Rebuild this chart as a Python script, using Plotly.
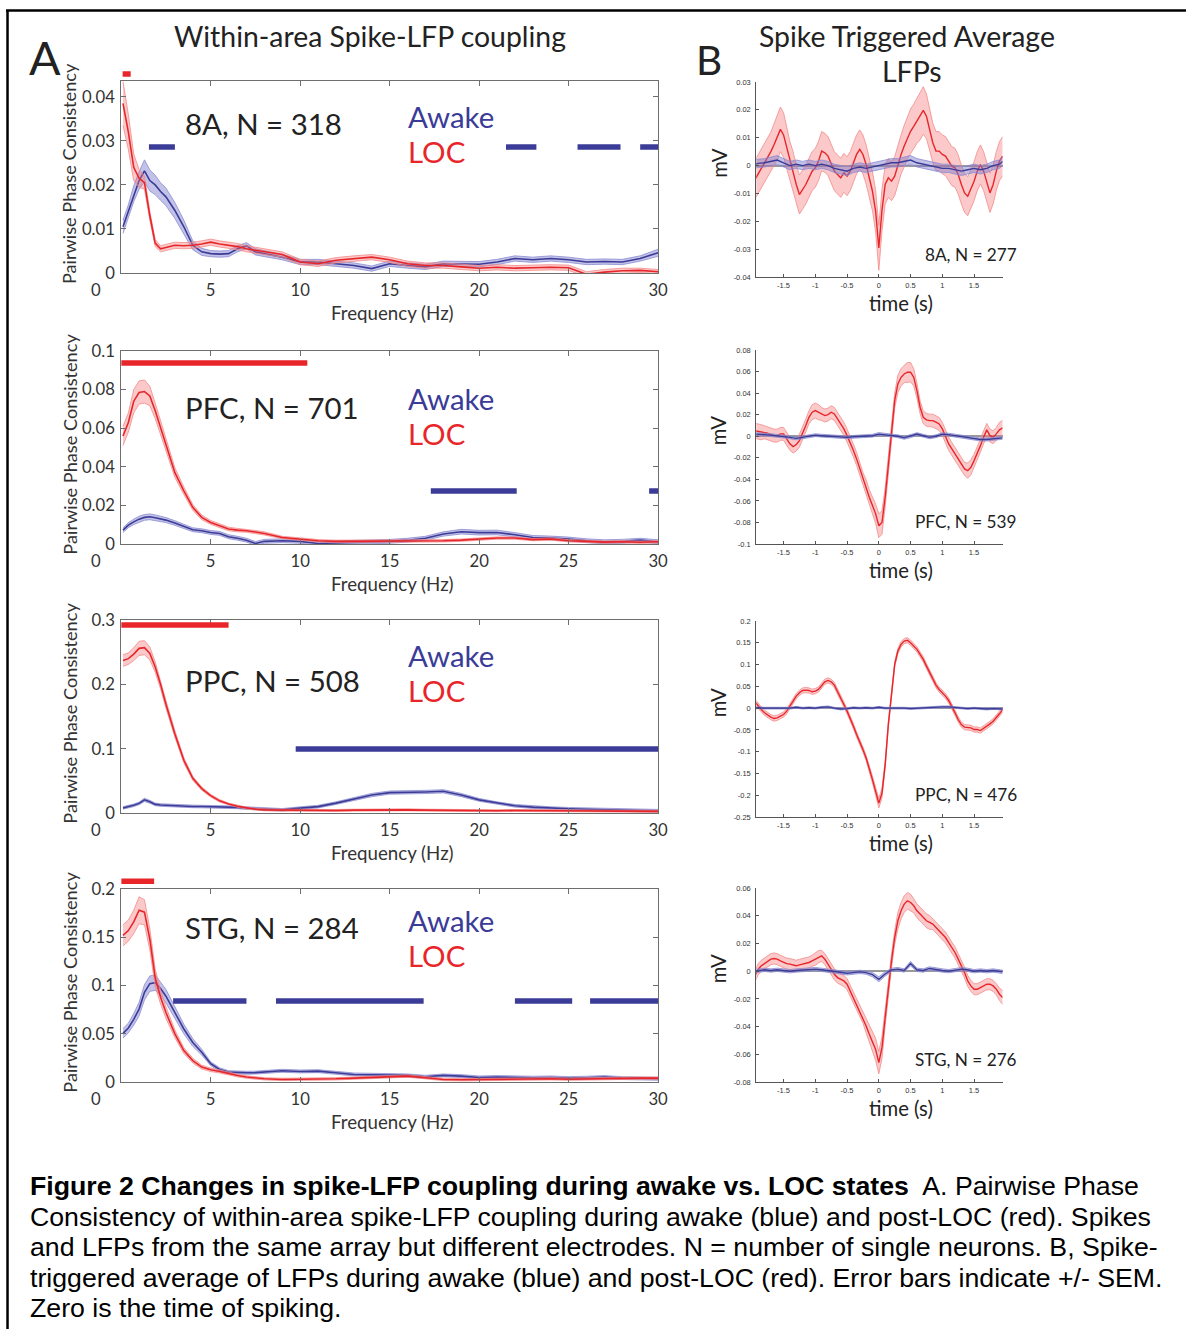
import plotly.graph_objects as go

W, H = 1196, 1339
# empirical page -> photo mapping correction (photo = S * page + O)
SX, SY, OX, OY = 0.99, 0.985, 1.0, 9.0
FS = 1 / 0.987  # font compensation

# ---------------- Panel A data: pairwise phase consistency vs frequency ----------------
FREQ_HZ = [0.1, 0.4, 0.7, 1.0, 1.3, 1.6, 1.9, 2.2, 2.5, 3,
           3.5, 4, 4.5, 5, 5.5, 6, 6.5, 7, 7.5, 8,
           9, 10, 11, 12, 13, 14, 15, 16, 17, 18,
           19, 20, 21, 22, 23, 24, 25, 26, 27, 28,
           29, 30]

PPC_8A_AWAKE = [0.0105, 0.014, 0.018, 0.021, 0.0232, 0.021, 0.020, 0.0185, 0.0173, 0.0142,
                0.0105, 0.0063, 0.0048, 0.0044, 0.0043, 0.0044, 0.0055, 0.0062, 0.0048, 0.0044,
                0.0036, 0.0025, 0.0025, 0.0021, 0.0017, 0.0010, 0.0021, 0.0017, 0.0014, 0.0021,
                0.0021, 0.0020, 0.0025, 0.0033, 0.0030, 0.0033, 0.0030, 0.0025, 0.0026, 0.0025,
                0.0033, 0.0046]
PPC_8A_AWAKE_SEM = [0.0015, 0.0015, 0.0018, 0.002, 0.0025, 0.0024, 0.0022, 0.002, 0.002, 0.0018,
                    0.0015, 0.001, 0.0008, 0.0007, 0.0007, 0.0007, 0.0007, 0.0007, 0.0007, 0.0007,
                    0.0006, 0.0006, 0.0006, 0.0006, 0.0006, 0.0006, 0.0006, 0.0006, 0.0006, 0.0006,
                    0.0006, 0.0006, 0.0006, 0.0006, 0.0006, 0.0006, 0.0006, 0.0006, 0.0006, 0.0006,
                    0.0006, 0.0008]
PPC_8A_LOC = [0.0385, 0.032, 0.024, 0.0215, 0.0205, 0.013, 0.0068, 0.0055, 0.0058, 0.0063,
              0.0062, 0.0063, 0.0066, 0.0070, 0.0066, 0.0063, 0.0060, 0.0055, 0.0052, 0.0048,
              0.0042, 0.0025, 0.0021, 0.0029, 0.0033, 0.0036, 0.0030, 0.0021, 0.0017, 0.0017,
              0.0014, 0.0011, 0.0013, 0.0011, 0.0012, 0.0013, 0.0012, -0.0003, 0.0002, 0.0005,
              0.0006, 0.0003]
PPC_8A_LOC_SEM = [0.005, 0.004, 0.003, 0.002, 0.0015, 0.001, 0.0008, 0.0007, 0.0007, 0.0007,
                  0.0007, 0.0007, 0.0007, 0.0007, 0.0007, 0.0007, 0.0007, 0.0007, 0.0007, 0.0007,
                  0.0006, 0.0006, 0.0006, 0.0006, 0.0006, 0.0006, 0.0006, 0.0006, 0.0006, 0.0006,
                  0.0006, 0.0006, 0.0006, 0.0006, 0.0006, 0.0006, 0.0006, 0.0006, 0.0006, 0.0006,
                  0.0005, 0.0005]

PPC_PFC_AWAKE = [0.0072, 0.0098, 0.0115, 0.0129, 0.0138, 0.0141, 0.0136, 0.0130, 0.0124, 0.0109,
                 0.0090, 0.0074, 0.0069, 0.0060, 0.0055, 0.0038, 0.0030, 0.0020, 0.0003, 0.0014,
                 0.0017, 0.0014, 0.0003, 0.0005, 0.0007, 0.0010, 0.0014, 0.0020, 0.0030, 0.0052,
                 0.0064, 0.0059, 0.0060, 0.0048, 0.0034, 0.0031, 0.0026, 0.0017, 0.0012, 0.0014,
                 0.0020, 0.0012]
PPC_PFC_AWAKE_SEM = [0.0012, 0.0013, 0.0014, 0.0015, 0.0015, 0.0015, 0.0015, 0.0014, 0.0013, 0.0012,
                     0.0011, 0.001, 0.001, 0.001, 0.001, 0.001, 0.001, 0.001, 0.001, 0.001,
                     0.001, 0.001, 0.001, 0.001, 0.001, 0.001, 0.001, 0.001, 0.001, 0.0011,
                     0.0012, 0.0012, 0.0012, 0.0011, 0.001, 0.001, 0.001, 0.001, 0.001, 0.001,
                     0.001, 0.001]
PPC_PFC_LOC = [0.056, 0.063, 0.074, 0.0785, 0.079, 0.0767, 0.069, 0.060, 0.051, 0.037,
               0.0276, 0.019, 0.0138, 0.0112, 0.0095, 0.0078, 0.0072, 0.0069, 0.0062, 0.0055,
               0.0034, 0.0026, 0.0017, 0.0014, 0.0014, 0.0014, 0.0014, 0.0017, 0.0014, 0.0017,
               0.0020, 0.0026, 0.0031, 0.0031, 0.0023, 0.0026, 0.0017, 0.0014, 0.0010, 0.0012,
               0.0009, 0.0012]
PPC_PFC_LOC_SEM = [0.005, 0.005, 0.006, 0.006, 0.006, 0.005, 0.004, 0.0035, 0.003, 0.0025,
                   0.002, 0.0015, 0.0012, 0.001, 0.001, 0.0009, 0.0009, 0.0008, 0.0008, 0.0008,
                   0.0006, 0.0006, 0.0006, 0.0006, 0.0006, 0.0006, 0.0006, 0.0006, 0.0006, 0.0006,
                   0.0006, 0.0006, 0.0006, 0.0006, 0.0006, 0.0006, 0.0006, 0.0006, 0.0006, 0.0006,
                   0.0006, 0.0006]

PPC_PPC_AWAKE = [0.008, 0.0095, 0.012, 0.015, 0.0205, 0.0175, 0.0135, 0.0125, 0.012, 0.0113,
                 0.0108, 0.0103, 0.0101, 0.0100, 0.0098, 0.0097, 0.0088, 0.0077, 0.0068, 0.0060,
                 0.0050, 0.0077, 0.0100, 0.0154, 0.0215, 0.0280, 0.0318, 0.0318, 0.0328, 0.0338,
                 0.0280, 0.0205, 0.0154, 0.0113, 0.0092, 0.0077, 0.0067, 0.0060, 0.0050, 0.0040,
                 0.0040, 0.0036]
PPC_PPC_AWAKE_SEM = [0.002, 0.002, 0.002, 0.002, 0.0025, 0.0022, 0.002, 0.002, 0.002, 0.002,
                     0.002, 0.002, 0.002, 0.002, 0.002, 0.002, 0.002, 0.002, 0.002, 0.002,
                     0.002, 0.002, 0.002, 0.002, 0.0022, 0.0025, 0.0025, 0.0025, 0.0025, 0.0025,
                     0.0025, 0.0022, 0.002, 0.002, 0.002, 0.002, 0.002, 0.002, 0.002, 0.002,
                     0.002, 0.002]
PPC_PPC_LOC = [0.237, 0.240, 0.247, 0.256, 0.257, 0.248, 0.227, 0.200, 0.169, 0.123,
               0.082, 0.054, 0.038, 0.027, 0.019, 0.014, 0.0105, 0.0077, 0.0060, 0.0050,
               0.0045, 0.0040, 0.0036, 0.0040, 0.0045, 0.0050, 0.0055, 0.0050, 0.0045, 0.0040,
               0.0040, 0.0036, 0.0036, 0.0040, 0.0038, 0.0036, 0.0033, 0.0030, 0.0030, 0.0030,
               0.0028, 0.0026]
PPC_PPC_LOC_SEM = [0.009, 0.009, 0.010, 0.011, 0.011, 0.010, 0.008, 0.007, 0.006, 0.005,
                   0.004, 0.003, 0.0025, 0.002, 0.002, 0.0015, 0.0015, 0.0015, 0.0015, 0.0015,
                   0.0015, 0.0015, 0.0015, 0.0015, 0.0015, 0.0015, 0.0015, 0.0015, 0.0015, 0.0015,
                   0.0015, 0.0015, 0.0015, 0.0015, 0.0015, 0.0015, 0.0015, 0.0015, 0.0015, 0.0015,
                   0.0015, 0.0015]

PPC_STG_AWAKE = [0.0505, 0.056, 0.065, 0.0756, 0.093, 0.102, 0.103, 0.097, 0.089, 0.072,
                 0.055, 0.041, 0.031, 0.019, 0.013, 0.0103, 0.0098, 0.0096, 0.0098, 0.0103,
                 0.0117, 0.0110, 0.0113, 0.0096, 0.0079, 0.0076, 0.0076, 0.0069, 0.0055, 0.0069,
                 0.0062, 0.0048, 0.0052, 0.0048, 0.0045, 0.0048, 0.0041, 0.0045, 0.0052, 0.0041,
                 0.0034, 0.0034]
PPC_STG_AWAKE_SEM = [0.005, 0.005, 0.006, 0.007, 0.008, 0.008, 0.008, 0.007, 0.007, 0.006,
                     0.005, 0.004, 0.003, 0.002, 0.0018, 0.0015, 0.0015, 0.0015, 0.0015, 0.0015,
                     0.0015, 0.0015, 0.0015, 0.0015, 0.0015, 0.0015, 0.0015, 0.0015, 0.0015, 0.0015,
                     0.0015, 0.0015, 0.0015, 0.0015, 0.0015, 0.0015, 0.0015, 0.0015, 0.0015, 0.0015,
                     0.0015, 0.0015]
PPC_STG_LOC = [0.152, 0.157, 0.166, 0.178, 0.176, 0.148, 0.108, 0.088, 0.072, 0.050,
               0.0326, 0.0223, 0.0155, 0.0127, 0.0110, 0.0086, 0.0068, 0.0052, 0.0042, 0.0034,
               0.0027, 0.0027, 0.0030, 0.0034, 0.0041, 0.0048, 0.0055, 0.0062, 0.0045, 0.0027,
               0.0024, 0.0027, 0.0027, 0.0034, 0.0030, 0.0034, 0.0030, 0.0034, 0.0034, 0.0038,
               0.0041, 0.0041]
PPC_STG_LOC_SEM = [0.011, 0.011, 0.012, 0.014, 0.013, 0.011, 0.009, 0.007, 0.006, 0.004,
                   0.003, 0.0025, 0.002, 0.0018, 0.0016, 0.0015, 0.0014, 0.0013, 0.0012, 0.0012,
                   0.0012, 0.0012, 0.0012, 0.0012, 0.0012, 0.0012, 0.0012, 0.0012, 0.0012, 0.0012,
                   0.0012, 0.0012, 0.0012, 0.0012, 0.0012, 0.0012, 0.0012, 0.0012, 0.0012, 0.0012,
                   0.0012, 0.0012]

# significance bars (frequency ranges, Hz)
SIG_8A_LOC = [(0.08, 0.53)]
SIG_8A_AWAKE = [(1.55, 3.0), (21.5, 23.2), (25.5, 27.9), (29.0, 30.0)]
SIG_PFC_LOC = [(0.0, 10.4)]
SIG_PFC_AWAKE = [(17.3, 22.1), (29.5, 30.0)]
SIG_PPC_LOC = [(0.0, 6.0)]
SIG_PPC_AWAKE = [(9.75, 30.0)]
SIG_STG_LOC = [(0.0, 1.84)]
SIG_STG_AWAKE = [(2.9, 7.0), (8.65, 16.9), (22.0, 25.2), (26.2, 30.0)]

AREAS_A = ["8A", "PFC", "PPC", "STG"]
N_A = [318, 701, 508, 284]
YTICKS_A = [[0, 0.01, 0.02, 0.03, 0.04],
            [0, 0.02, 0.04, 0.06, 0.08, 0.1],
            [0, 0.1, 0.2, 0.3],
            [0, 0.05, 0.1, 0.15, 0.2]]
YTEXT_A = [["0", "0.01", "0.02", "0.03", "0.04"],
           ["0", "0.02", "0.04", "0.06", "0.08", "0.1"],
           ["0", "0.1", "0.2", "0.3"],
           ["0", "0.05", "0.1", "0.15", "0.2"]]
YMAX_A = [0.0436, 0.1, 0.3, 0.2]
XTICKS_A = [0, 5, 10, 15, 20, 25, 30]

# ---------------- Panel B data: spike triggered average LFP ----------------
TIME_LOC = [round(-1.95 + 0.05 * i, 2) for i in range(79)]
TIME_AWAKE = [-1.95] + [round(-1.9 + 0.1 * i, 2) for i in range(39)] + [1.95]

STA_8A_LOC = [-0.005, -0.003, -0.001, 0.001, 0.0028, 0.005, 0.0075, 0.010, 0.013, 0.011,
              0.0064, 0.0016, -0.002, -0.0068, -0.0104, -0.0086, -0.0068, -0.0044, -0.002, -0.0008,
              0.0016, 0.0052, 0.0046, 0.0034, 0.0004, -0.002, -0.0032, -0.0044, -0.0026, -0.0038,
              -0.002, 0.001, 0.004, 0.0058, 0.004, 0.0004, -0.0044, -0.0092, -0.0164, -0.0296,
              -0.016, -0.0068, -0.0044, -0.0056, -0.0038, 0.0004, 0.004, 0.007, 0.010, 0.0123,
              0.0141, 0.016, 0.0177, 0.0198, 0.0177, 0.013, 0.0082, 0.0052, 0.0052, 0.004,
              0.0034, 0.0016, -0.0002, -0.0008, -0.0032, -0.0068, -0.0098, -0.011, -0.0086, -0.0056,
              -0.002, 0.0004, -0.002, -0.0056, -0.0098, -0.0068, -0.002, 0.0016, 0.0034]
STA_8A_LOC_SEM = [0.007, 0.007, 0.007, 0.007, 0.007, 0.007, 0.0075, 0.008, 0.008, 0.008,
                  0.0075, 0.007, 0.007, 0.007, 0.007, 0.007, 0.007, 0.007, 0.007, 0.007,
                  0.007, 0.007, 0.007, 0.007, 0.007, 0.007, 0.007, 0.007, 0.007, 0.007,
                  0.007, 0.007, 0.007, 0.007, 0.007, 0.007, 0.007, 0.007, 0.0075, 0.008,
                  0.0075, 0.007, 0.007, 0.007, 0.007, 0.007, 0.007, 0.0075, 0.0075, 0.008,
                  0.008, 0.008, 0.0085, 0.0085, 0.008, 0.0075, 0.007, 0.007, 0.007, 0.007,
                  0.007, 0.007, 0.007, 0.007, 0.007, 0.007, 0.007, 0.007, 0.007, 0.007,
                  0.007, 0.007, 0.007, 0.007, 0.007, 0.007, 0.007, 0.007, 0.007]
STA_PFC_LOC = [0.005, 0.0046, 0.0037, 0.0037, 0.0028, 0.0015, 0.0006, 0.0006, 0.0022, 0.0022,
               -0.0025, -0.0071, -0.0096, -0.0077, -0.004, 0.0022, 0.0099, 0.0176, 0.0223, 0.0238,
               0.0223, 0.0207, 0.0192, 0.0201, 0.0223, 0.0207, 0.0161, 0.0114, 0.0068, 0.0006,
               -0.0056, -0.0133, -0.021, -0.0303, -0.0396, -0.0473, -0.0566, -0.0643, -0.072, -0.083,
               -0.080, -0.0566, -0.0257, 0.0053, 0.0331, 0.0486, 0.0547, 0.0578, 0.0594, 0.0594,
               0.0547, 0.0424, 0.0269, 0.0176, 0.0152, 0.0145, 0.0145, 0.013, 0.0114, 0.0068,
               -0.0009, -0.0071, -0.0118, -0.0164, -0.021, -0.0257, -0.0303, -0.0319, -0.0288, -0.0226,
               -0.0164, -0.0087, -0.0009, 0.0059, 0.0006, -0.0009, 0.0022, 0.0059, 0.0077]
STA_PFC_LOC_SEM = [0.007, 0.007, 0.007, 0.006, 0.006, 0.006, 0.006, 0.006, 0.006, 0.006,
                   0.006, 0.006, 0.006, 0.006, 0.006, 0.006, 0.006, 0.006, 0.007, 0.007,
                   0.007, 0.006, 0.006, 0.006, 0.006, 0.006, 0.006, 0.006, 0.006, 0.006,
                   0.006, 0.006, 0.006, 0.006, 0.006, 0.007, 0.007, 0.008, 0.009, 0.011,
                   0.011, 0.009, 0.007, 0.007, 0.007, 0.008, 0.008, 0.008, 0.009, 0.009,
                   0.008, 0.007, 0.006, 0.006, 0.006, 0.006, 0.006, 0.006, 0.006, 0.006,
                   0.006, 0.006, 0.006, 0.006, 0.006, 0.006, 0.006, 0.007, 0.007, 0.006,
                   0.006, 0.006, 0.006, 0.006, 0.006, 0.006, 0.006, 0.007, 0.007]
STA_PPC_LOC = [0.0146, 0.0046, -0.0031, -0.0107, -0.016, -0.0207, -0.0238, -0.0222, -0.0184, -0.0146,
               -0.0069, 0.0046, 0.0161, 0.0276, 0.0353, 0.0406, 0.0414, 0.0406, 0.0376, 0.0391,
               0.0429, 0.0529, 0.0606, 0.0637, 0.0606, 0.0529, 0.0391, 0.0238, 0.0084, -0.0069,
               -0.0222, -0.0414, -0.0606, -0.0759, -0.0951, -0.1143, -0.1373, -0.1641, -0.191, -0.218,
               -0.195, -0.1296, -0.0376, 0.0391, 0.1005, 0.1311, 0.1465, 0.1541, 0.1557, 0.1503,
               0.1426, 0.135, 0.1235, 0.112, 0.0966, 0.0813, 0.066, 0.0529, 0.0429, 0.0353,
               0.0276, 0.0176, 0.0046, -0.0107, -0.0261, -0.0376, -0.0437, -0.0452, -0.0452, -0.0491,
               -0.0491, -0.0514, -0.0468, -0.0414, -0.036, -0.0299, -0.0222, -0.013, -0.0031]
STA_PPC_LOC_SEM = [0.006, 0.006, 0.006, 0.006, 0.006, 0.006, 0.006, 0.006, 0.006, 0.006,
                   0.006, 0.006, 0.006, 0.006, 0.006, 0.006, 0.006, 0.006, 0.006, 0.006,
                   0.006, 0.006, 0.006, 0.006, 0.006, 0.006, 0.006, 0.006, 0.006, 0.006,
                   0.006, 0.006, 0.006, 0.006, 0.006, 0.006, 0.007, 0.008, 0.009, 0.011,
                   0.011, 0.009, 0.007, 0.006, 0.006, 0.006, 0.006, 0.006, 0.006, 0.006,
                   0.006, 0.006, 0.006, 0.006, 0.006, 0.006, 0.006, 0.006, 0.006, 0.006,
                   0.006, 0.006, 0.006, 0.006, 0.006, 0.006, 0.006, 0.006, 0.006, 0.006,
                   0.006, 0.006, 0.006, 0.006, 0.006, 0.006, 0.006, 0.006, 0.006]
STA_STG_LOC = [-0.0034, 0.0014, 0.0039, 0.0055, 0.0075, 0.0087, 0.0092, 0.0087, 0.0075, 0.0063,
               0.0055, 0.0051, 0.0046, 0.0039, 0.0046, 0.0051, 0.0055, 0.0063, 0.0075, 0.0087,
               0.0104, 0.0111, 0.0087, 0.0051, 0.0014, -0.0022, -0.0046, -0.0058, -0.007, -0.0094,
               -0.0142, -0.019, -0.0239, -0.0287, -0.0335, -0.0395, -0.0455, -0.0504, -0.0564, -0.066,
               -0.055, -0.0335, -0.0118, 0.0075, 0.0243, 0.0364, 0.0436, 0.0484, 0.0508, 0.0496,
               0.0472, 0.0436, 0.0412, 0.0388, 0.0364, 0.0352, 0.034, 0.0316, 0.0292, 0.0267,
               0.0243, 0.0207, 0.0171, 0.0135, 0.0087, 0.0039, -0.001, -0.007, -0.0106, -0.013,
               -0.013, -0.0118, -0.0106, -0.0094, -0.0094, -0.0106, -0.013, -0.0166, -0.019]
STA_STG_LOC_SEM = [0.004, 0.004, 0.004, 0.004, 0.004, 0.004, 0.004, 0.004, 0.004, 0.004,
                   0.004, 0.004, 0.004, 0.004, 0.004, 0.004, 0.004, 0.004, 0.004, 0.0045,
                   0.0045, 0.004, 0.004, 0.004, 0.004, 0.004, 0.004, 0.004, 0.004, 0.004,
                   0.004, 0.004, 0.004, 0.004, 0.004, 0.005, 0.006, 0.007, 0.008, 0.008,
                   0.008, 0.006, 0.005, 0.005, 0.005, 0.006, 0.006, 0.006, 0.006, 0.006,
                   0.005, 0.005, 0.005, 0.005, 0.005, 0.005, 0.004, 0.004, 0.004, 0.004,
                   0.004, 0.004, 0.004, 0.004, 0.004, 0.004, 0.004, 0.004, 0.004, 0.004,
                   0.004, 0.004, 0.004, 0.004, 0.004, 0.004, 0.004, 0.0045, 0.005]

STA_8A_AWAKE = [0.0005, 0.0008, 0.001, 0.0015, 0.002, 0.001, 0.0, 0.0005, 0.0, 0.0005,
                0.0, 0.0005, 0.0, -0.001, -0.0015, -0.002, -0.001, -0.0005, -0.001, -0.0005,
                0.0, 0.0005, 0.001, 0.001, 0.0015, 0.002, 0.001, 0.0005, 0.0, -0.0005,
                -0.001, -0.001, -0.0015, -0.002, -0.0015, -0.001, -0.0015, -0.001, 0.0, 0.0005,
                0.0015]
STA_PFC_AWAKE = [0.002, 0.002, 0.0015, 0.001, 0.0005, 0.0, -0.001, -0.002, -0.001, 0.0005,
                 0.001, 0.0005, 0.0, 0.0, -0.0005, -0.001, -0.0005, 0.0, 0.0, 0.0005,
                 0.002, 0.0015, 0.001, 0.0, -0.0015, 0.0, 0.002, 0.0005, -0.001, 0.0,
                 0.002, 0.0015, 0.0005, -0.0005, -0.0015, -0.002, -0.003, -0.003, -0.0025, -0.002,
                 -0.0015]
STA_PPC_AWAKE = [0.0, 0.001, 0.0, 0.0, 0.001, 0.0, 0.0, 0.002, 0.0, 0.001,
                 0.0, 0.002, 0.003, 0.0, -0.002, -0.001, 0.001, 0.0, 0.001, 0.0,
                 0.002, 0.0, 0.0, 0.001, 0.0, -0.001, 0.0, 0.0, 0.001, 0.002,
                 0.003, 0.003, 0.002, 0.0, -0.001, 0.0, -0.001, -0.002, -0.001, -0.002,
                 -0.002]
STA_STG_AWAKE = [0.0, 0.0005, 0.001, 0.0005, 0.001, 0.0005, 0.0, 0.0005, 0.001, 0.001,
                 0.0015, 0.001, 0.0005, 0.0, -0.001, -0.0015, -0.001, -0.0005, -0.001, -0.0025,
                 -0.0058, -0.002, 0.001, 0.0015, 0.0005, 0.0055, 0.001, 0.0005, 0.002, 0.001,
                 0.0005, 0.0, 0.001, 0.0015, 0.001, 0.0, 0.0005, 0.0, 0.0005, 0.0,
                 -0.0005]
STA_8A_AWAKE_SEM = [0.0015, 0.0015, 0.0015, 0.0015, 0.0016, 0.0015, 0.0015, 0.0015, 0.0015, 0.0015,
                    0.0015, 0.0015, 0.0015, 0.0015, 0.0015, 0.0016, 0.0015, 0.0015, 0.0015, 0.0015,
                    0.0015, 0.0015, 0.0015, 0.0015, 0.0015, 0.0016, 0.0015, 0.0015, 0.0015, 0.0015,
                    0.0015, 0.0015, 0.0015, 0.0016, 0.0015, 0.0015, 0.0015, 0.0015, 0.0015, 0.0015,
                    0.0015]
STA_PFC_AWAKE_SEM = [0.0013, 0.0013, 0.0013, 0.0013, 0.0013, 0.0013, 0.0013, 0.0013, 0.0013, 0.0013,
                     0.0013, 0.0013, 0.0013, 0.0013, 0.0013, 0.0013, 0.0013, 0.0013, 0.0013, 0.0013,
                     0.0014, 0.0013, 0.0013, 0.0013, 0.0013, 0.0013, 0.0013, 0.0013, 0.0013, 0.0013,
                     0.0013, 0.0013, 0.0013, 0.0013, 0.0013, 0.0013, 0.0014, 0.0014, 0.0014, 0.0013,
                     0.0013]
STA_PPC_AWAKE_SEM = [0.002, 0.002, 0.002, 0.002, 0.002, 0.002, 0.002, 0.002, 0.002, 0.002,
                     0.002, 0.002, 0.002, 0.002, 0.002, 0.002, 0.002, 0.002, 0.002, 0.002,
                     0.002, 0.002, 0.002, 0.002, 0.002, 0.002, 0.002, 0.002, 0.002, 0.002,
                     0.002, 0.002, 0.002, 0.002, 0.002, 0.002, 0.002, 0.002, 0.002, 0.002,
                     0.002]
STA_STG_AWAKE_SEM = [0.0012, 0.0012, 0.0012, 0.0012, 0.0012, 0.0012, 0.0012, 0.0012, 0.0012, 0.0012,
                     0.0012, 0.0012, 0.0012, 0.0012, 0.0012, 0.0012, 0.0012, 0.0012, 0.0012, 0.0015,
                     0.0018, 0.0015, 0.0012, 0.0012, 0.0012, 0.0016, 0.0012, 0.0012, 0.0012, 0.0012,
                     0.0012, 0.0012, 0.0012, 0.0012, 0.0012, 0.0012, 0.0012, 0.0012, 0.0012, 0.0012,
                     0.0012]

N_B = [277, 539, 476, 276]
YTICKS_B = [[0.03, 0.02, 0.01, 0, -0.01, -0.02, -0.03, -0.04],
            [0.08, 0.06, 0.04, 0.02, 0, -0.02, -0.04, -0.06, -0.08, -0.1],
            [0.2, 0.15, 0.1, 0.05, 0, -0.05, -0.1, -0.15, -0.2, -0.25],
            [0.06, 0.04, 0.02, 0, -0.02, -0.04, -0.06, -0.08]]
YTEXT_B = [["0.03", "0.02", "0.01", "0", "-0.01", "-0.02", "-0.03", "-0.04"],
           ["0.08", "0.06", "0.04", "0.02", "0", "-0.02", "-0.04", "-0.06", "-0.08", "-0.1"],
           ["0.2", "0.15", "0.1", "0.05", "0", "-0.05", "-0.1", "-0.15", "-0.2", "-0.25"],
           ["0.06", "0.04", "0.02", "0", "-0.02", "-0.04", "-0.06", "-0.08"]]
XTICKS_B = [-1.5, -1, -0.5, 0, 0.5, 1, 1.5]
XTEXT_B = ["-1.5", "-1", "-0.5", "0", "0.5", "1", "1.5"]

CAPTION_LINES = [
    "<b>Figure 2 Changes in spike-LFP coupling during awake vs. LOC states</b>\u00a0 A. Pairwise Phase",
    "Consistency of within-area spike-LFP coupling during awake (blue) and post-LOC (red). Spikes",
    "and LFPs from the same array but different electrodes. N = number of single neurons. B, Spike-",
    "triggered average of LFPs during awake (blue) and post-LOC (red). Error bars indicate +/- SEM.",
    "Zero is the time of spiking.",
]

# ---------------- sanity checks ----------------
for arr in [PPC_8A_AWAKE, PPC_8A_AWAKE_SEM, PPC_8A_LOC, PPC_8A_LOC_SEM, PPC_PFC_AWAKE, PPC_PFC_AWAKE_SEM,
            PPC_PFC_LOC, PPC_PFC_LOC_SEM, PPC_PPC_AWAKE, PPC_PPC_AWAKE_SEM, PPC_PPC_LOC, PPC_PPC_LOC_SEM,
            PPC_STG_AWAKE, PPC_STG_AWAKE_SEM, PPC_STG_LOC, PPC_STG_LOC_SEM]:
    assert len(arr) == len(FREQ_HZ), len(arr)
for arr in [STA_8A_LOC, STA_8A_LOC_SEM, STA_PFC_LOC, STA_PFC_LOC_SEM, STA_PPC_LOC, STA_PPC_LOC_SEM,
            STA_STG_LOC, STA_STG_LOC_SEM]:
    assert len(arr) == len(TIME_LOC), len(arr)
for arr in [STA_8A_AWAKE, STA_PFC_AWAKE, STA_PPC_AWAKE, STA_STG_AWAKE, STA_8A_AWAKE_SEM,
            STA_PFC_AWAKE_SEM, STA_PPC_AWAKE_SEM, STA_STG_AWAKE_SEM]:
    assert len(arr) == len(TIME_AWAKE), len(arr)

# ---------------- styles ----------------
BLUE = "#3b3b98"
BLUE_EDGE = "#8c8cd0"
BLUE_FILL = "rgba(120,120,205,0.45)"
RED = "#e8262a"
RED_EDGE = "#f28a8a"
RED_FILL = "rgba(245,120,120,0.40)"
TXT = "#333333"
AX = "#6e6e6e"
FONT = "Lato"
CAP_FONT = "Liberation Sans"


def px(x):
    """target photo pixel x -> paper fraction"""
    return ((x - OX) / SX) / W


def py(y):
    """target photo pixel y -> paper fraction"""
    return 1 - ((y - OY) / SY) / H


def fs(s):
    return round(s * FS, 1)


# pixel layout of the panels in the target picture (top, bottom)
LEFT_X = (122, 658)
LEFT_Y = [(80, 272), (350, 543), (619, 812), (888, 1081)]
RIGHT_X = (756, 1002)
RIGHT_Y = [(81, 276), (349, 543), (620, 816), (887, 1081)]
RIGHT_RANGE_X = [-1.93, 1.95]
RIGHT_RANGE_Y = [[-0.04, 0.03], [-0.1, 0.08], [-0.25, 0.2], [-0.08, 0.06]]

# bar heights as fraction of panel height
BAR_Y_LOC = [1.036, 0.938, 0.974, 1.041]
BAR_Y_AWAKE = [0.656, 0.275, 0.332, 0.420]

PPC_SETS = [
    (PPC_8A_AWAKE, PPC_8A_AWAKE_SEM, PPC_8A_LOC, PPC_8A_LOC_SEM, SIG_8A_AWAKE, SIG_8A_LOC),
    (PPC_PFC_AWAKE, PPC_PFC_AWAKE_SEM, PPC_PFC_LOC, PPC_PFC_LOC_SEM, SIG_PFC_AWAKE, SIG_PFC_LOC),
    (PPC_PPC_AWAKE, PPC_PPC_AWAKE_SEM, PPC_PPC_LOC, PPC_PPC_LOC_SEM, SIG_PPC_AWAKE, SIG_PPC_LOC),
    (PPC_STG_AWAKE, PPC_STG_AWAKE_SEM, PPC_STG_LOC, PPC_STG_LOC_SEM, SIG_STG_AWAKE, SIG_STG_LOC),
]
STA_SETS = [
    (STA_8A_AWAKE, STA_8A_AWAKE_SEM, STA_8A_LOC, STA_8A_LOC_SEM),
    (STA_PFC_AWAKE, STA_PFC_AWAKE_SEM, STA_PFC_LOC, STA_PFC_LOC_SEM),
    (STA_PPC_AWAKE, STA_PPC_AWAKE_SEM, STA_PPC_LOC, STA_PPC_LOC_SEM),
    (STA_STG_AWAKE, STA_STG_AWAKE_SEM, STA_STG_LOC, STA_STG_LOC_SEM),
]

fig = go.Figure()


def add_band(x, mean, sem, xa, ya, line_color, edge_color, fill_color, lw):
    upper = [m + s for m, s in zip(mean, sem)]
    lower = [m - s for m, s in zip(mean, sem)]
    fig.add_trace(go.Scatter(x=x, y=upper, mode="lines", xaxis=xa, yaxis=ya,
                             line=dict(color=edge_color, width=0.8), hoverinfo="skip"))
    fig.add_trace(go.Scatter(x=x, y=lower, mode="lines", xaxis=xa, yaxis=ya, fill="tonexty",
                             fillcolor=fill_color, line=dict(color=edge_color, width=0.8),
                             hoverinfo="skip"))
    fig.add_trace(go.Scatter(x=x, y=mean, mode="lines", xaxis=xa, yaxis=ya,
                             line=dict(color=line_color, width=lw)))


def ann(text, x, y, size, color="#222222", xanchor="center", yanchor="middle", angle=0,
        family=FONT):
    return dict(text=text, xref="paper", yref="paper", x=px(x), y=py(y), xanchor=xanchor,
                yanchor=yanchor, showarrow=False, textangle=angle, align="left",
                font=dict(family=family, size=fs(size), color=color))


layout = {}
annotations = []
shapes = []

# ---------------- Panel A ----------------
for i in range(4):
    n = i + 1
    xa, ya = ("x" if n == 1 else f"x{n}"), ("y" if n == 1 else f"y{n}")
    top, bot = LEFT_Y[i]
    aw, aw_sem, loc, loc_sem, sig_aw, sig_loc = PPC_SETS[i]
    add_band(FREQ_HZ, aw, aw_sem, xa, ya, BLUE, BLUE_EDGE, BLUE_FILL, 1.6)
    add_band(FREQ_HZ, loc, loc_sem, xa, ya, RED, RED_EDGE, RED_FILL, 1.6)
    layout[f"xaxis{'' if n == 1 else n}"] = dict(
        domain=[px(LEFT_X[0]), px(LEFT_X[1])], range=[0, 30], anchor=ya,
        showline=True, mirror="ticks", linecolor=AX, linewidth=1, ticks="inside", ticklen=5,
        tickcolor=AX, tickvals=XTICKS_A, ticktext=[""] + [str(v) for v in XTICKS_A[1:]],
        tickfont=dict(family=FONT, size=fs(16.5), color=TXT), showgrid=False, zeroline=False,
        ticklabelstandoff=2)
    layout[f"yaxis{'' if n == 1 else n}"] = dict(
        domain=[py(bot), py(top)], range=[0, YMAX_A[i]], anchor=xa,
        showline=True, mirror="ticks", linecolor=AX, linewidth=1, ticks="inside", ticklen=5,
        tickcolor=AX, tickvals=YTICKS_A[i], ticktext=YTEXT_A[i],
        tickfont=dict(family=FONT, size=fs(16.5), color=TXT), showgrid=False, zeroline=False,
        ticklabelstandoff=2)
    for (a, b) in sig_loc:
        shapes.append(dict(type="line", xref=xa, yref=f"{ya} domain", x0=a, x1=b,
                           y0=BAR_Y_LOC[i], y1=BAR_Y_LOC[i], line=dict(color=RED, width=5.5)))
    for (a, b) in sig_aw:
        shapes.append(dict(type="line", xref=xa, yref=f"{ya} domain", x0=a, x1=b,
                           y0=BAR_Y_AWAKE[i], y1=BAR_Y_AWAKE[i], line=dict(color=BLUE, width=5.5)))
    annotations.append(ann("0", 97, bot + 17, 16.5, TXT))
    annotations.append(ann("Frequency (Hz)", 393, bot + 40, 18.5, TXT))
    annotations.append(ann("Pairwise Phase Consistency", 70, (top + bot) / 2 - 3, 18, TXT, angle=-90))
    label_y = [122, 406, 679, 926][i]
    aw_y = [115, 397, 654, 919][i]
    annotations.append(ann(f"{AREAS_A[i]}, N = {N_A[i]}", 184, label_y, 29, xanchor="left"))
    annotations.append(ann("Awake", 406, aw_y, 29, BLUE, xanchor="left"))
    annotations.append(ann("LOC", 406, aw_y + 35, 29, RED, xanchor="left"))

# ---------------- Panel B ----------------
for j in range(4):
    n = j + 5
    xa, ya = f"x{n}", f"y{n}"
    top, bot = RIGHT_Y[j]
    aw, aw_sem, loc, loc_sem = STA_SETS[j]
    add_band(TIME_LOC, loc, loc_sem, xa, ya, RED, RED_EDGE, RED_FILL, 1.4)
    add_band(TIME_AWAKE, aw, aw_sem, xa, ya, BLUE, BLUE_EDGE, BLUE_FILL, 1.4)
    layout[f"xaxis{n}"] = dict(
        domain=[px(RIGHT_X[0]), px(RIGHT_X[1])], range=RIGHT_RANGE_X, anchor=ya,
        showline=True, linecolor="#555555", linewidth=1, ticks="inside", ticklen=3,
        tickcolor="#555555", tickvals=XTICKS_B, ticktext=XTEXT_B,
        tickfont=dict(family=CAP_FONT, size=7.5, color=TXT), showgrid=False, zeroline=False,
        ticklabelstandoff=1)
    layout[f"yaxis{n}"] = dict(
        domain=[py(bot), py(top)], range=RIGHT_RANGE_Y[j], anchor=xa,
        showline=True, linecolor="#555555", linewidth=1, ticks="inside", ticklen=3,
        tickcolor="#555555", tickvals=YTICKS_B[j], ticktext=YTEXT_B[j],
        tickfont=dict(family=CAP_FONT, size=7.5, color=TXT), showgrid=False,
        zeroline=True, zerolinecolor="#9a9a9a", zerolinewidth=1.5, ticklabelstandoff=3)
    annotations.append(ann("mV", 718, (top + bot) / 2 - 16, 20, angle=-90))
    annotations.append(ann("time (s)", 901, bot + 12, 20, yanchor="top"))
    annotations.append(ann(f"{AREAS_A[j]}, N = {N_B[j]}", 1018, bot - 23, 17, xanchor="right"))

# ---------------- headings ----------------
annotations += [
    ann("A", 28, 56, 46, xanchor="left"),
    ann("Within-area Spike-LFP coupling", 370, 35, 28),
    ann("B", 694, 58, 40, xanchor="left"),
    ann("Spike Triggered Average", 907, 35, 28),
    ann("LFPs", 911, 70, 28),
]

# caption, one annotation per line
CAPTION_Y = [1185, 1216, 1246, 1277, 1307]
for line, yy in zip(CAPTION_LINES, CAPTION_Y):
    annotations.append(ann(line, 29, yy, 26.4, "#000000", xanchor="left", family=CAP_FONT))

# frame lines (top and left)
shapes.append(dict(type="line", xref="paper", yref="paper", x0=px(7), x1=1, y0=py(9.5), y1=py(9.5),
                   line=dict(color="#000000", width=2.5)))
shapes.append(dict(type="line", xref="paper", yref="paper", x0=px(8.5), x1=px(8.5), y0=py(9.5),
                   y1=0, line=dict(color="#000000", width=2.5)))

fig.update_layout(width=W, height=H, margin=dict(l=0, r=0, t=0, b=0), showlegend=False,
                  paper_bgcolor="white", plot_bgcolor="rgba(0,0,0,0)",
                  annotations=annotations, shapes=shapes, **layout)
fig.write_html("out.html")
